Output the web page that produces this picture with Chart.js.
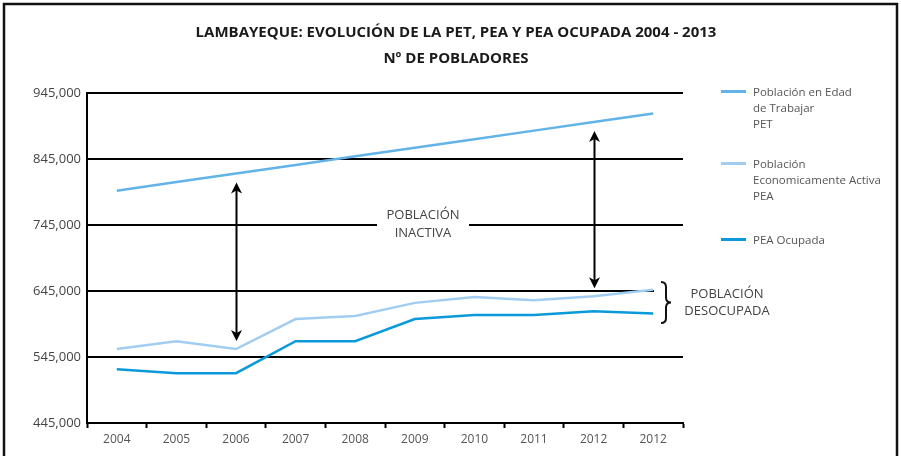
<!DOCTYPE html>
<html>
<head>
<meta charset="utf-8">
<script src="https://cdn.jsdelivr.net/npm/chart.js@4.4.1/dist/chart.umd.min.js"></script>
<style>
  html, body { margin: 0; padding: 0; background: #fff; }
  #wrap { position: relative; width: 901px; height: 456px; }
  canvas { display: block; }
</style>
</head>
<body>
<div id="wrap"><canvas id="c" width="901" height="456"></canvas></div>
<script>
// ---- Data ----
const categories = ['2004','2005','2006','2007','2008','2009','2010','2011','2012','2012'];
const petValues = [797000, 810000, 823000, 836000, 849000, 862000, 875000, 888000, 901000, 914000];
const peaValues = [557000, 569000, 557000, 602500, 607000, 627000, 636000, 631000, 637000, 647000];
const ocupadaValues = [526500, 520500, 520500, 569000, 569000, 602500, 608500, 608500, 614500, 611000];
const yTicks = [445000, 545000, 645000, 745000, 845000, 945000];

const titleLines = ['LAMBAYEQUE: EVOLUCIÓN DE LA PET, PEA Y PEA OCUPADA 2004 - 2013', 'Nº DE POBLADORES'];
const legendLabels = [
  ['Población en Edad', 'de Trabajar', 'PET'],
  ['Población', 'Economicamente Activa', 'PEA'],
  ['PEA Ocupada']
];
const inactivaLabel = ['POBLACIÓN', 'INACTIVA'];
const desocupadaLabel = ['POBLACIÓN', 'DESOCUPADA'];
const arrowIndices = [2, 8];

const colors = ['#62B3E8', '#A2CDF2', '#0A9ADA'];
const FONT = '"Open Sans", "DejaVu Sans", sans-serif';

function drawArrowHead(ctx, x, y, dir) {
  // dir: -1 pointing up, 1 pointing down
  ctx.beginPath();
  ctx.moveTo(x, y);
  ctx.lineTo(x - 5.5, y - dir * 11);
  ctx.lineTo(x, y - dir * 8);
  ctx.lineTo(x + 5.5, y - dir * 11);
  ctx.closePath();
  ctx.fill();
}

const decorPlugin = {
  id: 'decor',
  beforeDatasetsDraw(chart) {
    const ctx = chart.ctx;
    const y = chart.scales.y;
    const area = chart.chartArea;
    // shorten the 645,000 gridline to leave room for the brace
    const y645 = y.getPixelForValue(645000);
    ctx.save();
    ctx.fillStyle = '#fff';
    ctx.fillRect(654, y645 - 2, area.right - 654 + 2, 4);
    // gap in 745,000 gridline behind label
    const y745 = y.getPixelForValue(745000);
    ctx.fillRect(377, y745 - 2, 92, 4);
    ctx.restore();
  },
  afterDraw(chart) {
    const ctx = chart.ctx;
    const xs = chart.scales.x, ys = chart.scales.y;
    ctx.save();
    // frame
    ctx.strokeStyle = '#111';
    ctx.lineWidth = 2.5;
    ctx.strokeRect(4, 4, 893, 470);

    // title
    ctx.fillStyle = '#1a1a1a';
    ctx.font = 'bold 15px ' + FONT;
    ctx.textAlign = 'center';
    ctx.textBaseline = 'middle';
    ctx.fillText(titleLines[0], 456, 33);
    ctx.fillText(titleLines[1], 456, 59);

    // arrows
    ctx.strokeStyle = '#000';
    ctx.fillStyle = '#000';
    ctx.lineWidth = 2;
    arrowIndices.forEach(i => {
      const x = Math.round(xs.getPixelForValue(i)) + 0.5;
      const yTop = ys.getPixelForValue(petValues[i]) + 9;
      const yBot = ys.getPixelForValue(peaValues[i]) - 8;
      ctx.beginPath();
      ctx.moveTo(x, yTop + 6);
      ctx.lineTo(x, yBot - 6);
      ctx.stroke();
      drawArrowHead(ctx, x, yTop, -1);
      drawArrowHead(ctx, x, yBot, 1);
    });

    // inactiva label
    ctx.fillStyle = '#444';
    ctx.font = '13px ' + FONT;
    ctx.textAlign = 'center';
    const y745 = ys.getPixelForValue(745000);
    ctx.fillText(inactivaLabel[0], 423, y745 - 10);
    ctx.fillText(inactivaLabel[1], 423, y745 + 8);

    // brace
    const bx = 665, bTop = 282, bBot = 323, bMid = (bTop + bBot) / 2;
    ctx.strokeStyle = '#111';
    ctx.lineWidth = 2;
    ctx.beginPath();
    ctx.moveTo(bx - 4, bTop);
    ctx.quadraticCurveTo(bx + 1, bTop, bx + 1, bTop + 5);
    ctx.lineTo(bx + 1, bMid - 5);
    ctx.quadraticCurveTo(bx + 1, bMid, bx + 6, bMid);
    ctx.quadraticCurveTo(bx + 1, bMid, bx + 1, bMid + 5);
    ctx.lineTo(bx + 1, bBot - 5);
    ctx.quadraticCurveTo(bx + 1, bBot, bx - 4, bBot);
    ctx.stroke();

    // desocupada label
    ctx.fillStyle = '#444';
    ctx.font = '13px ' + FONT;
    ctx.textAlign = 'center';
    ctx.fillText(desocupadaLabel[0], 727, 294);
    ctx.fillText(desocupadaLabel[1], 727, 311);

    // legend
    const legendY = [93, 165, 241];
    ctx.font = '11.5px ' + FONT;
    ctx.textAlign = 'left';
    legendLabels.forEach((lines, k) => {
      const ly = legendY[k];
      ctx.fillStyle = colors[k];
      ctx.fillRect(721, ly - 3, 25, 3);
      ctx.fillStyle = '#555';
      lines.forEach((t, j) => ctx.fillText(t, 753, ly + j * 16));
    });
    ctx.restore();
  }
};

const ctx = document.getElementById('c').getContext('2d');
new Chart(ctx, {
  type: 'line',
  data: {
    labels: categories,
    datasets: [
      { label: 'PET', data: petValues, borderColor: colors[0], borderWidth: 2.5 },
      { label: 'PEA', data: peaValues, borderColor: colors[1], borderWidth: 2.5 },
      { label: 'PEA Ocupada', data: ocupadaValues, borderColor: colors[2], borderWidth: 2.5 }
    ]
  },
  options: {
    responsive: false,
    animation: false,
    devicePixelRatio: 1,
    elements: { point: { radius: 0 }, line: { tension: 0, borderCapStyle: 'butt' } },
    layout: { padding: { top: 93, right: 218, left: 0, bottom: 0 } },
    plugins: { legend: { display: false }, title: { display: false }, tooltip: { enabled: false } },
    scales: {
      x: {
        offset: true,
        grid: { offset: true, drawOnChartArea: false, drawTicks: true, tickLength: 5, tickColor: '#000', tickWidth: 2 },
        border: { display: true, color: '#000', width: 2 },
        ticks: { color: '#555', font: { family: FONT, size: 12 }, padding: 4, maxRotation: 0, autoSkip: false },
        afterFit(s) { s.height = 33; }
      },
      y: {
        min: 445000, max: 945000,
        afterBuildTicks(s) { s.ticks = yTicks.map(v => ({ value: v })); },
        grid: { color: '#000', lineWidth: 2, drawTicks: false },
        border: { display: true, color: '#000', width: 2 },
        ticks: {
          color: '#444', font: { family: FONT, size: 13 }, padding: 6,
          callback: v => v.toLocaleString('en-US')
        },
        afterFit(s) { s.width = 87; }
      }
    }
  },
  plugins: [decorPlugin]
});
</script>
</body>
</html>
